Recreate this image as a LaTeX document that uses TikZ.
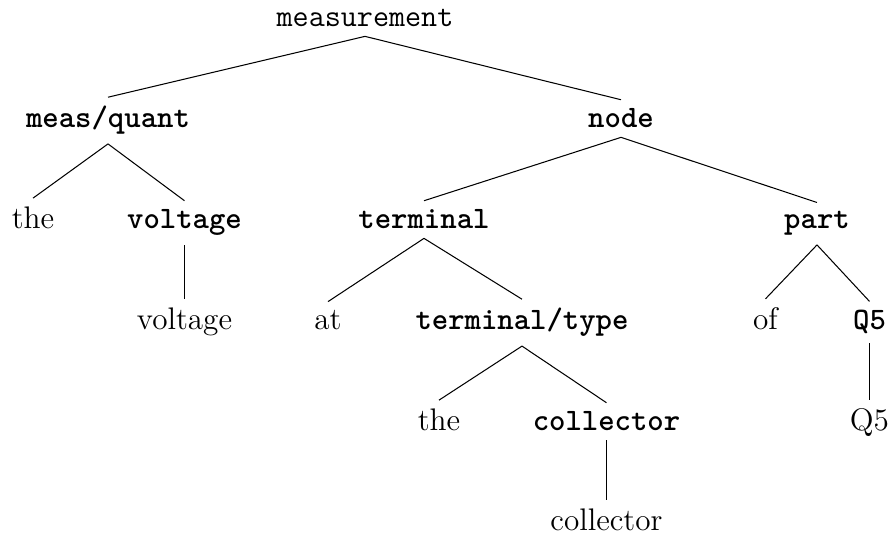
\documentclass[tikz,border=0pt]{standalone}
\begin{document}
\begin{tikzpicture}[x=0.3846pt,y=-0.3846pt,
  every node/.style={font=\fontsize{12}{14.4}\selectfont, anchor=base},
  cat/.style={font=\fontsize{12}{14.4}\selectfont\ttfamily\bfseries},
  root/.style={font=\fontsize{12}{14.4}\selectfont\ttfamily},
  word/.style={},
  edge/.style={draw=black, line width=0.4pt}]
\useasboundingbox (0,0) rectangle (891,536);

% level rows (baselines)
\def\rA{27}\def\rB{128}\def\rC{229}\def\rD{330}\def\rE{431}\def\rF{531}

\node[root] (m)   at (365,\rA) {measurement};

\node[cat]  (mq)  at (108,\rB) {meas/quant};
\node[cat]  (nd)  at (621,\rB) {node};

\node[word] (the1) at (33,\rC)  {the};
\node[cat]  (vb)   at (184.5,\rC) {voltage};
\node[cat]  (tm)   at (424,\rC) {terminal};
\node[cat]  (pt)   at (817,\rC) {part};

\node[word] (vw)   at (184.5,\rD) {voltage};
\node[word] (at)   at (328,\rD) {at};
\node[cat]  (tt)   at (522,\rD) {terminal/type};
\node[word] (of)   at (765.5,\rD) {of};
\node[cat]  (qb)   at (869.5,\rD) {Q5};

\node[word] (the2) at (439,\rE) {the};
\node[cat]  (cb)   at (606.5,\rE) {collector};
\node[word] (qw)   at (869.5,\rE) {Q5};

\node[word] (cw)   at (606.5,\rF) {collector};

\foreach \p/\c in {m/mq, m/nd, mq/the1, mq/vb, vb/vw, nd/tm, nd/pt,
                   tm/at, tm/tt, tt/the2, tt/cb, cb/cw, pt/of, pt/qb, qb/qw}
  \draw[edge] (\p.south) -- (\c.north);
\end{tikzpicture}
\end{document}
